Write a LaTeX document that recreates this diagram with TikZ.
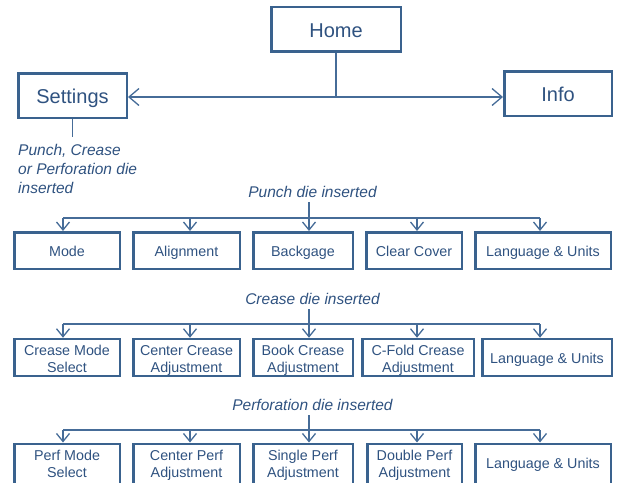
\documentclass[tikz,border=0pt]{standalone}
\usepackage{fontspec}
\setmainfont{Liberation Sans}
\usepackage{tikz}
\usetikzlibrary{arrows.meta}
\definecolor{mblue}{RGB}{58, 98, 142}
\definecolor{mtext}{RGB}{47, 82, 128}
\definecolor{mline}{RGB}{70, 108, 152}
\tikzset{menu/.style = {draw = mblue, line width = 2.5pt, text = mtext, align = center, inner sep = 0, font = \fontsize{14.3}{17}\selectfont, text height = 12.4pt, text depth = 0pt}}
\tikzset{twoline/.style = {text height = 29pt, text depth = 0pt}}
\tikzset{mainbox/.style = {menu, font = \fontsize{20}{24}\selectfont, minimum height = 44.5pt, text height = 16.8pt}}
\tikzset{dieinfo/.style = {text = mtext, inner sep = 5pt, font = \fontsize{15.5}{19}\selectfont\itshape}}
\tikzset{link/.style = {draw = mline, line width = 1.3pt}}
\tikzset{arr/.style = {link, -{Straight Barb[length = 8pt, width = 13pt]}}}
\tikzset{harr/.style = {link, -{Straight Barb[length = 10pt, width = 17pt]}}}

\begin{document}
\begin{tikzpicture}[x = 1pt, y = -1pt]
    \useasboundingbox (0, 0) rectangle (618, 482);

    \node [mainbox, minimum width = 129.5pt] (home) at (336, 29) {Home};
    \node [mainbox, minimum width = 108.5pt] (settings) at (72.5, 95.5) {Settings};
    \node [mainbox, minimum width = 107.5pt] (info) at (558, 93.5) {Info};
    \coordinate (hub) at (336, 97);
    \draw [link] (home.south) -- (hub);
    \draw [harr] (hub) -- (hub -| settings.east);
    \draw [harr] (hub) -- (hub -| info.west);
    \coordinate (stub) at (72.5, 137);
    \draw [link] (settings.south) -- (stub);
    \node [dieinfo, anchor = north west, align = left, inner sep = 0] (dienote) at (18, 144) {Punch, Crease\\or Perforation die\\inserted};

    \begin{scope}[every node/.append style = {minimum height = 36.5pt}]
      \node [menu, minimum width = 105.5pt] (mode) at (67, 250.5) {Mode};
      \node [menu, minimum width = 106.5pt] (alignment) at (186.5, 250.5) {Alignment};
      \node [menu, minimum width = 99.5pt] (backgage) at (303, 250.5) {Backgage};
      \node [menu, minimum width = 95.5pt] (clear) at (414, 250.5) {Clear Cover};
      \node [menu, minimum width = 135.5pt] (plang) at (543, 250.5) {Language \& Units};
    \end{scope}
    \node [dieinfo, anchor = base] (plabel) at (312.5, 197) {Punch die inserted};
    \coordinate (pbus) at (309, 218);
    \draw [link] (pbus) -- (pbus |- plabel.south);
    \draw [link] ([xshift = -4pt]mode.north |- pbus) -- ([xshift = -3pt]plang.north |- pbus);
    \foreach \b/\dx in {mode/-4, alignment/3.5, backgage/6, clear/3, plang/-3}
      \draw [arr] ([xshift = \dx pt]\b.north |- pbus) -- ([xshift = \dx pt]\b.north);

    \begin{scope}[every node/.append style = {minimum height = 37pt}]
      \node [menu, twoline, minimum width = 105.5pt] (cmode) at (67, 357.5) {Crease Mode\\Select};
      \node [menu, twoline, minimum width = 106.5pt] (ccenter) at (186.5, 357.5) {Center Crease\\Adjustment};
      \node [menu, twoline, minimum width = 99.5pt] (cbook) at (303, 357.5) {Book Crease\\Adjustment};
      \node [menu, twoline, minimum width = 111.5pt] (cfold) at (418, 357.5) {C-Fold Crease\\Adjustment};
      \node [menu, minimum width = 129.5pt] (clang) at (547, 357.5) {Language \& Units};
    \end{scope}
    \node [dieinfo, anchor = base] (clabel) at (312.5, 304) {Crease die inserted};
    \coordinate (cbus) at (309, 324);
    \draw [link] (cbus) -- (cbus |- clabel.south);
    \draw [link] ([xshift = -4pt]cmode.north |- cbus) -- ([xshift = -7pt]clang.north |- cbus);
    \foreach \b/\dx in {cmode/-4, ccenter/3.5, cbook/6, cfold/-1, clang/-7}
      \draw [arr] ([xshift = \dx pt]\b.north |- cbus) -- ([xshift = \dx pt]\b.north);

    \begin{scope}[every node/.append style = {minimum height = 40pt}]
      \node [menu, twoline, text height = 26.5pt, minimum width = 105.5pt] (fmode) at (67, 463.75) {Perf Mode\\Select};
      \node [menu, twoline, text height = 26.5pt, minimum width = 106.5pt] (fcenter) at (186.5, 463.75) {Center Perf\\Adjustment};
      \node [menu, twoline, text height = 26.5pt, minimum width = 99.5pt] (fsingle) at (303, 463.75) {Single Perf\\Adjustment};
      \node [menu, twoline, text height = 26.5pt, minimum width = 94.5pt] (fdouble) at (414.5, 463.75) {Double Perf\\Adjustment};
      \node [menu, text height = 9pt, minimum width = 135.5pt] (flang) at (543, 463.75) {Language \& Units};
    \end{scope}
    \node [dieinfo, anchor = base] (flabel) at (312.5, 410) {Perforation die inserted};
    \coordinate (fbus) at (309, 430);
    \draw [link] (fbus) -- (fbus |- flabel.south);
    \draw [link] ([xshift = -4pt]fmode.north |- fbus) -- ([xshift = -3pt]flang.north |- fbus);
    \foreach \b/\dx in {fmode/-4, fcenter/3.5, fsingle/6, fdouble/2.5, flang/-3}
      \draw [arr] ([xshift = \dx pt]\b.north |- fbus) -- ([xshift = \dx pt]\b.north);
  \end{tikzpicture}
\end{document}
